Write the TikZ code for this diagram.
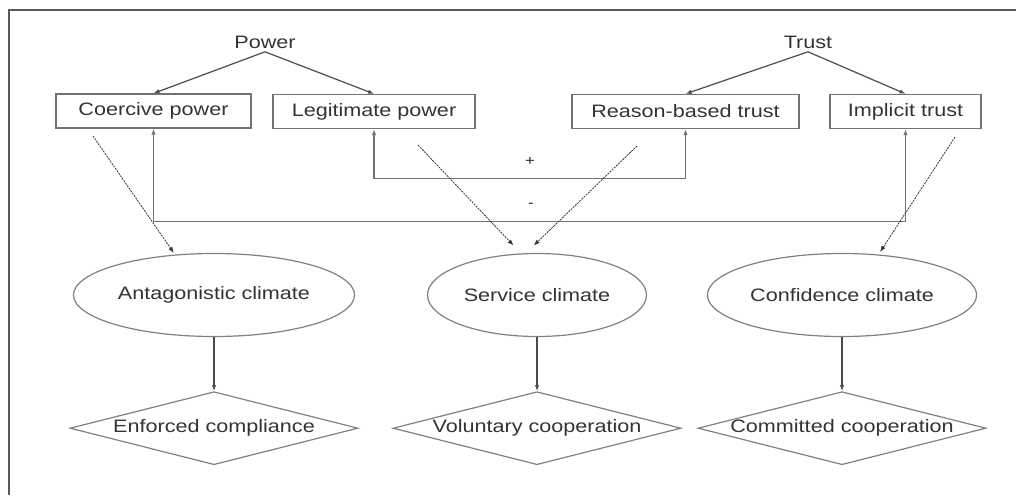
\documentclass[tikz,border=0pt]{standalone}
\usepackage{fontspec}
\setmainfont{Liberation Sans}[FakeStretch=1.2]
\usepackage{tikz}
\usetikzlibrary{positioning, arrows.meta, shapes.geometric}

\tikzset{
    lbl/.style={text=black!80, font=\fontsize{18}{22}\selectfont},
    boxnode/.style={draw=black!55, line width=1.3pt, lbl, minimum height=34pt, inner sep=0pt},
    climate/.style={ellipse, draw=black!50, line width=1.2pt, lbl, minimum width=219pt, minimum height=83pt},
    outcome/.style={diamond, draw=black!50, line width=1.2pt, minimum width=288pt, minimum height=73pt, inner sep=0pt},
    tip/.style={-{Latex[length=6pt, width=4.5pt]}},
    link/.style={tip, draw=black!70, line width=1.2pt},
    fb/.style={{Latex[length=6pt, width=4.5pt]}-{Latex[length=6pt, width=4.5pt]}, draw=black!55, line width=1.3pt},
    dsh/.style={tip, draw=black!80, line width=0.8pt, dash pattern=on 2pt off 1pt},
}

\begin{document}
\begin{tikzpicture}[x=1pt, y=-1pt]
    \useasboundingbox (0,0) rectangle (1016,495);
    \draw [black!65, line width=1.5pt] (9,495) -- (9,10) -- (1016,10);

    \node (power) [lbl] at (265,42) {Power};
    \node (trust) [lbl] at (808,42) {Trust};

    \node (coercive) [boxnode, minimum width=195pt] at (153.5,111) {Coercive power};
    \node (legit) [boxnode, minimum width=202pt] at (374,111.5) {Legitimate power};
    \node (reason) [boxnode, minimum width=227pt] at (685.5,111.5) {Reason-based trust};
    \node (implicit) [boxnode, minimum width=151pt] at (905.5,111.5) {Implicit trust};

    \draw [link] (power.south) -- (coercive.north);
    \draw [link] (power.south) -- (legit.north);
    \draw [link] (trust.south) -- (reason.north);
    \draw [link] (trust.south) -- (implicit.north);

    % feedback loops
    \draw [fb] (legit.south) -- ++(0,49) -| (reason.south);
    \draw [fb] (coercive.south) -- ++(0,93) -| (implicit.south);
    \node (plus) [text=black!85, font=\fontsize{14}{16}\selectfont] at (530,161) {+};
    \node (minus) [text=black!85, font=\fontsize{14}{16}\selectfont] at (531,205) {-};

    \node (antag) [climate] at (214,295) {Antagonistic climate};
    \node (service) [climate] at (537,295) {Service climate};
    \node (confid) [climate] at (842,295) {Confidence climate};

    \node (enforced) [outcome, below=54pt of antag, label={[lbl]center:Enforced compliance}] {};
    \node (voluntary) [outcome, below=54pt of service, label={[lbl]center:Voluntary cooperation}] {};
    \node (committed) [outcome, below=54pt of confid, label={[lbl]center:Committed cooperation}] {};

    \draw [link] (antag) -- (enforced);
    \draw [link] (service) -- (voluntary);
    \draw [link] (confid) -- (committed);

    % dotted influences
    \coordinate (s1) at (93,136);
    \coordinate (s2) at (418,145);
    \coordinate (s3) at (637,146);
    \coordinate (s4) at (955,137);
    \draw [dsh, shorten >=2pt] (s1) -- (antag.134);
    \draw [dsh, shorten >=11pt] (s2) -- (service.111);
    \draw [dsh, shorten >=11pt] (s3) -- (service.105);
    \draw [dsh, shorten >=3pt] (s4) -- (confid.48);
\end{tikzpicture}
\end{document}
